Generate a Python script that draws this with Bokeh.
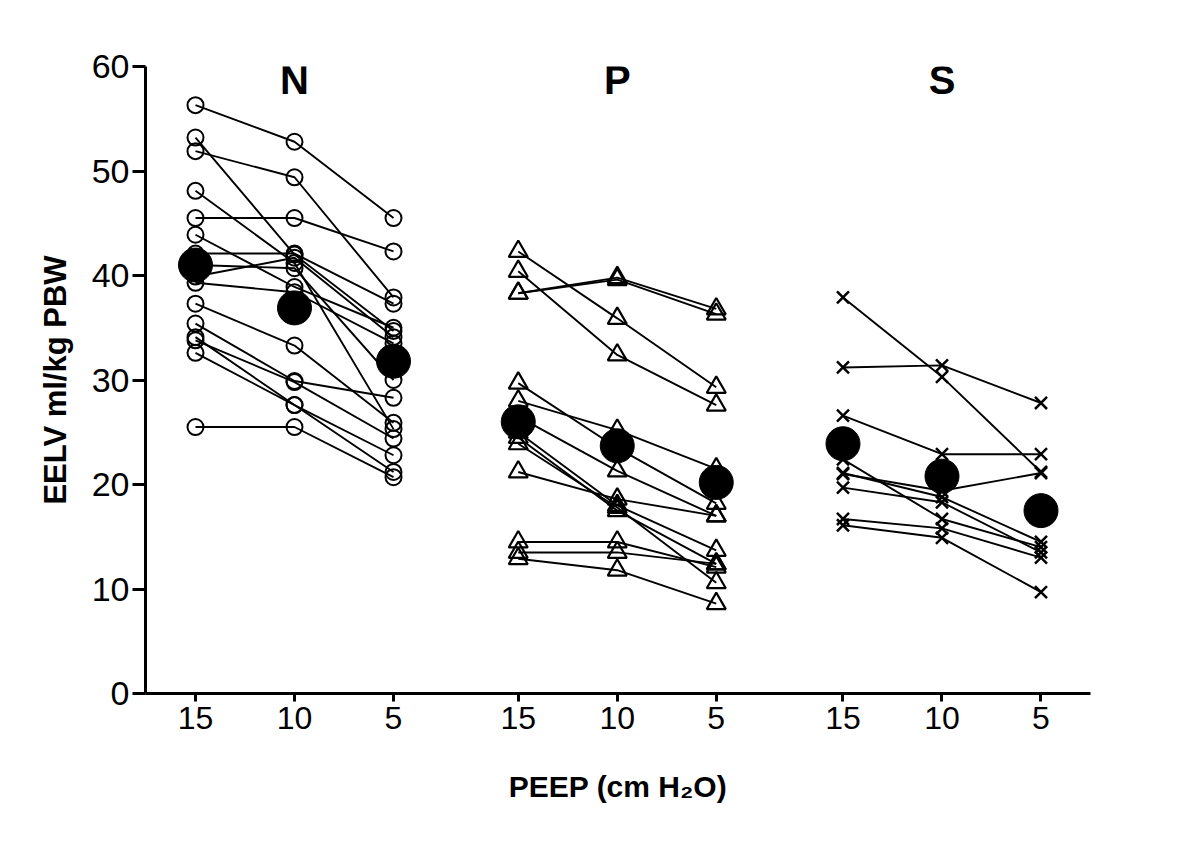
from bokeh.plotting import figure
from bokeh.models import Range1d, FixedTicker
from bokeh.embed import file_html
from bokeh.resources import INLINE
from bokeh.core.properties import value

# ---- data ----
groups = ["N", "P", "S"]
peep_labels = ["15", "10", "5"]

N15 = [56.3, 53.2, 51.9, 48.1, 45.5, 43.9, 42.1, 41.0, 39.9, 39.3, 37.3, 35.4, 34.1, 33.8, 32.6, 25.5]
N10 = [52.8, 42.0, 49.4, 41.2, 45.5, 38.9, 42.1, 40.7, 41.7, 38.4, 33.3, 29.9, 27.6, 29.8, 27.6, 25.5]
N5 = [45.5, 34.7, 37.9, 25.3, 42.3, 35.0, 37.3, 30.0, 34.1, 33.5, 25.9, 28.3, 21.2, 24.4, 22.8, 20.7]
N_mean = [41.0, 36.9, 31.8]

P15 = [42.3, 40.4, 38.3, 38.3, 29.7, 28.0, 26.5, 25.0, 24.5, 23.9, 21.2, 14.5, 13.5, 12.9]
P10 = [35.9, 32.4, 39.8, 39.6, 23.5, 25.2, 21.3, 18.0, 17.5, 17.8, 18.6, 14.5, 13.5, 11.8]
P5 = [29.3, 27.6, 36.8, 36.3, 18.2, 21.5, 17.0, 13.7, 12.4, 10.6, 17.0, 12.1, 12.4, 8.6]
P_mean = [26.0, 23.7, 20.2]

S15 = [37.9, 31.2, 26.6, 22.4, 21.1, 21.0, 19.7, 16.7, 16.1]
S10 = [30.3, 31.4, 22.9, 16.7, 18.8, 19.4, 18.3, 15.8, 14.9]
S5 = [21.2, 27.8, 22.9, 14.0, 14.5, 21.1, 13.5, 13.0, 9.7]
S_mean = [23.9, 20.8, 17.5]

y_ticks = [0, 10, 20, 30, 40, 50, 60]

# ---- layout ----
step_pos = [100, 200, 300]
group_offset = [0, 326, 654]
FONT = "Liberation Sans"

p = figure(width=1184, height=825, output_backend="svg", toolbar_location=None,
           x_range=Range1d(49.5, 1004), y_range=Range1d(0, 60),
           min_border_left=145, min_border_right=94, min_border_top=66, min_border_bottom=132)
p.grid.visible = False
p.outline_line_color = None
p.background_fill_color = "white"
p.border_fill_color = "white"

series = [
    (N15, N10, N5, N_mean, "circle", 16, 2.0),
    (P15, P10, P5, P_mean, "triangle", 19, 2.2),
    (S15, S10, S5, S_mean, "x", 17, 2.5),
]

all_ticks = []
overrides = {}
for gi, (a15, a10, a5, mean, marker, size, lw) in enumerate(series):
    xs = [s + group_offset[gi] for s in step_pos]
    all_ticks += xs
    for k, x in enumerate(xs):
        overrides[x] = peep_labels[k]
    n = len(a15)
    p.multi_line(xs=[xs] * n, ys=[[a, b, c] for a, b, c in zip(a15, a10, a5)],
                 line_color="black", line_width=1.9)
    p.scatter([xs[0]] * n + [xs[1]] * n + [xs[2]] * n, a15 + a10 + a5,
              marker=marker, size=size, fill_color=None, line_color="black", line_width=lw)
    p.scatter(xs, mean, marker="circle", size=34, fill_color="black", line_color="black")

# group titles
p.text(x=[step_pos[1] + o for o in group_offset], y=[58.7] * 3, text=groups,
       text_font=value(FONT), text_font_style="bold", text_font_size="40px",
       text_align="center", text_baseline="middle", text_color="black")

# axes
for ax in (p.xaxis, p.yaxis):
    ax.axis_line_width = 3
    ax.axis_line_color = "black"
    ax.major_tick_line_width = 3
    ax.major_tick_line_color = "black"
    ax.major_tick_in = 0
    ax.minor_tick_line_color = None
    ax.major_label_text_font = FONT
    ax.major_label_text_color = "black"
    ax.axis_label_text_font = FONT
    ax.axis_label_text_font_style = "bold"
    ax.axis_label_text_color = "black"

p.yaxis.ticker = FixedTicker(ticks=y_ticks)
p.yaxis.major_tick_out = 13
p.yaxis.major_label_text_font_size = "34px"
p.yaxis.major_label_standoff = 3
p.yaxis.axis_label = "EELV ml/kg PBW"
p.yaxis.axis_label_text_font_size = "31px"
p.yaxis.axis_label_standoff = 16

p.xaxis.ticker = FixedTicker(ticks=all_ticks)
p.xaxis.major_label_overrides = overrides
p.xaxis.major_tick_out = 8
p.xaxis.major_label_text_font_size = "32px"
p.xaxis.major_label_standoff = 5
p.xaxis.axis_label = "PEEP (cm H\u2082O)"
p.xaxis.axis_label_text_font_size = "30px"
p.xaxis.axis_label_standoff = 38

open("out.html", "w").write(file_html(p, INLINE))
